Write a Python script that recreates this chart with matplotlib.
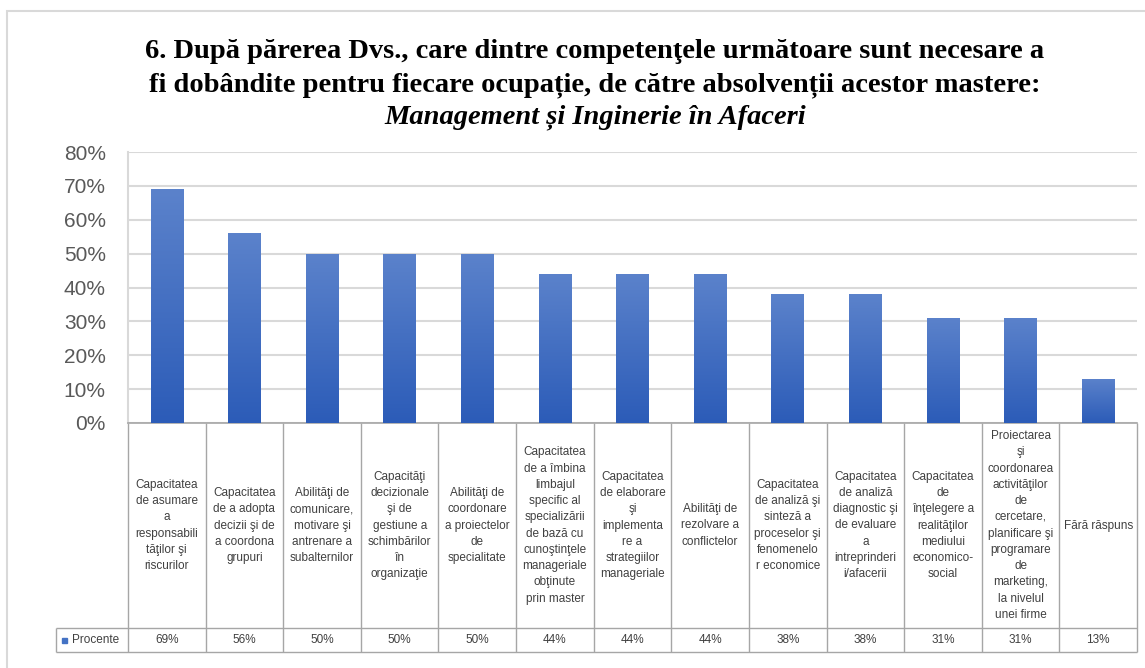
import numpy as np
import matplotlib
matplotlib.use('Agg')
import matplotlib.pyplot as plt
from matplotlib.patches import Rectangle
from matplotlib.colors import LinearSegmentedColormap
from matplotlib.transforms import blended_transform_factory

# Data
categories = [
    "Capacitatea\nde asumare\na\nresponsabili\ntăţilor şi\nriscurilor",
    "Capacitatea\nde a adopta\ndecizii şi de\na coordona\ngrupuri",
    "Abilităţi de\ncomunicare,\nmotivare şi\nantrenare a\nsubalternilor",
    "Capacităţi\ndecizionale\nşi de\ngestiune a\nschimbărilor\nîn\norganizaţie",
    "Abilităţi de\ncoordonare\na proiectelor\nde\nspecialitate",
    "Capacitatea\nde a îmbina\nlimbajul\nspecific al\nspecializării\nde bază cu\ncunoştinţele\nmanageriale\nobţinute\nprin master",
    "Capacitatea\nde elaborare\nşi\nimplementa\nre a\nstrategiilor\nmanageriale",
    "Abilităţi de\nrezolvare a\nconflictelor",
    "Capacitatea\nde analiză şi\nsinteză a\nproceselor şi\nfenomenelo\nr economice",
    "Capacitatea\nde analiză\ndiagnostic şi\nde evaluare\na\nintreprinderi\ni/afacerii",
    "Capacitatea\nde\nînţelegere a\nrealităţilor\nmediului\neconomico-\nsocial",
    "Proiectarea\nşi\ncoordonarea\nactivităţilor\nde\ncercetare,\nplanificare şi\nprogramare\nde\nmarketing,\nla nivelul\nunei firme",
    "Fără răspuns",
]
values = [69, 56, 50, 50, 50, 44, 44, 44, 38, 38, 31, 31, 13]
series_name = "Procente"
yticks = [0, 10, 20, 30, 40, 50, 60, 70, 80]

W, H = 1145, 668
fig = plt.figure(figsize=(W / 100, H / 100), dpi=100)

# outer frame of the chart area (cut off at right and bottom)
fig.patches.append(Rectangle((7 / W, -0.05), 1.2, 1 - 11 / H + 0.05, transform=fig.transFigure,
                             fill=False, edgecolor='#d9d9d9', linewidth=1.5))

# plot area in pixels
left, right, top, bottom = 128, 1137, 152, 423
plot_w = right - left
plot_h = bottom - top
ax = fig.add_axes([left / W, 1 - bottom / H, plot_w / W, plot_h / H])

n = len(values)
x = np.arange(n)
bars = ax.bar(x, values, width=0.42, color='#4472c4', zorder=3)

# vertical gradient on each bar, like the Excel style
cmap = LinearSegmentedColormap.from_list('bar', ['#2c5cb8', '#5b82cb'])
grad = np.linspace(0, 1, 100).reshape(-1, 1)
for b in bars:
    x0, y0 = b.get_x(), b.get_y()
    im = ax.imshow(grad, extent=[x0, x0 + b.get_width(), y0, y0 + b.get_height()],
                   origin='lower', cmap=cmap, aspect='auto', zorder=4)
    im.set_clip_path(b)

ax.set_xlim(-0.5, n - 0.5)
ax.set_ylim(0, 80)
ax.set_yticks(yticks)
ax.set_yticklabels([f"{t}%" for t in yticks], fontsize=15, color='#595959', family='Liberation Sans')
ax.tick_params(axis='y', length=0, pad=16)
ax.set_xticks([])
ax.grid(axis='y', color='#d9d9d9', linewidth=1.5, zorder=0)
for s in ['top', 'right']:
    ax.spines[s].set_visible(False)
ax.spines['left'].set_color('#d9d9d9')
ax.spines['left'].set_linewidth(1.5)
ax.spines['bottom'].set_color('#a6a6a6')
ax.spines['bottom'].set_linewidth(1.2)

# data table below the plot, drawn by hand
tbl_mid, tbl_bot, lab_left = 628, 652, 56


def ya(ypx):
    return (bottom - ypx) / plot_h


def xa(xpx):
    return (xpx - left) / plot_w


grid_col = '#a6a6a6'
bt = blended_transform_factory(ax.transData, ax.transAxes)
line_kw = dict(color=grid_col, linewidth=1.0, clip_on=False, solid_capstyle='butt')
for k in range(n + 1):
    ax.plot([k - 0.5, k - 0.5], [0, ya(tbl_bot)], transform=bt, **line_kw)
ax.plot([xa(lab_left), 1], [ya(tbl_mid)] * 2, transform=ax.transAxes, **line_kw)
ax.plot([xa(lab_left), 1], [ya(tbl_bot)] * 2, transform=ax.transAxes, **line_kw)
ax.plot([xa(lab_left)] * 2, [ya(tbl_mid), ya(tbl_bot)], transform=ax.transAxes, **line_kw)

txt_kw = dict(fontsize=8.5, color='#404040', family='Liberation Sans', clip_on=False)
y_head = ya((bottom + tbl_mid) / 2)
y_val = ya((tbl_mid + tbl_bot) / 2)
for i, (cat, v) in enumerate(zip(categories, values)):
    ax.text(i, y_head, cat, transform=bt, ha='center', va='center', multialignment='center',
            linespacing=1.47, **txt_kw)
    ax.text(i, y_val, f"{v}%", transform=bt, ha='center', va='center', **txt_kw)

# row label with legend key
ax.add_patch(Rectangle((xa(62), ya(643)), 5 / plot_w, 5 / plot_h,
                       transform=ax.transAxes, color='#4472c4', clip_on=False, zorder=10))
ax.text(xa(72), y_val, series_name, transform=ax.transAxes, ha='left', va='center', **txt_kw)

# title
tfont = dict(family='Liberation Serif', fontsize=20.5, fontweight='bold', color='black', ha='center', va='center')
cx = 595 / W
fig.text(cx, 1 - 52 / H, "6. După părerea Dvs., care dintre competenţele următoare sunt necesare a", **tfont)
fig.text(cx, 1 - 85 / H, "fi dobândite pentru fiecare ocupație, de către absolvenții acestor mastere:", **tfont)
fig.text(cx, 1 - 117 / H, "Management și Inginerie în Afaceri", style='italic', **tfont)

fig.savefig('out.png', dpi=100)
